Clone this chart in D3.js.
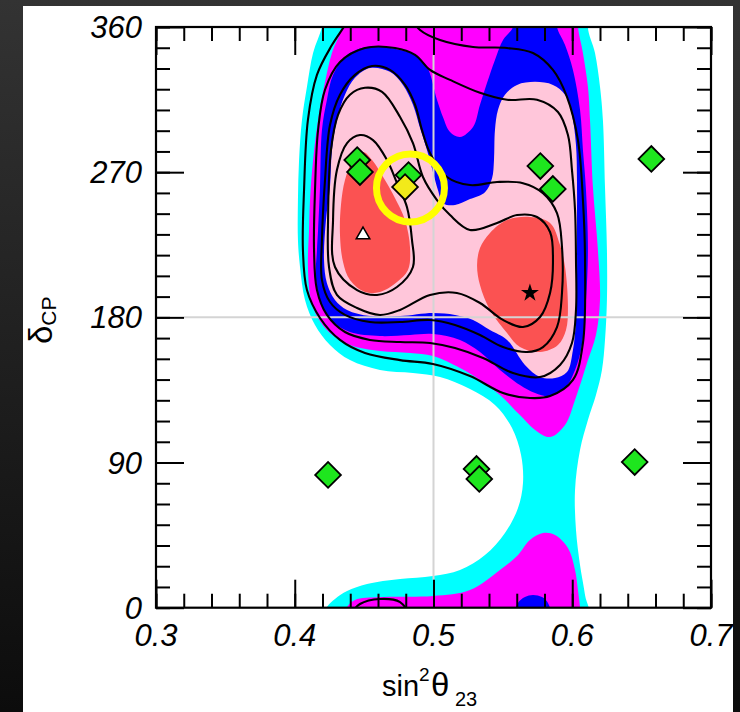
<!DOCTYPE html>
<html>
<head>
<meta charset="utf-8">
<script src="https://cdn.jsdelivr.net/npm/d3@7"></script>
<style>
  html, body { margin: 0; padding: 0; background: #1c1c1c; }
  svg { display: block; }
</style>
</head>
<body>
<svg id="chart" width="740" height="712"></svg>
<script>
// ---- axis ticks ----
const xMajorTicks = [0.3, 0.4, 0.5, 0.6, 0.7];
const yMajorTicks = [0, 90, 180, 270, 360];
const xTickLabels = ["0.3", "0.4", "0.5", "0.6", "0.7"];
const yTickLabels = ["0", "90", "180", "270", "360"];

// ---- allowed regions in (sin^2 theta23, deltaCP) ----
const cyanRegion = [
  [0.4211, 370.5], [0.6142, 370.5], [0.6113, 360.0], [0.6164, 343.9], [0.6200, 322.9],
  [0.6221, 302.4], [0.6236, 260.8], [0.6250, 221.7], [0.6250, 190.8], [0.6236, 166.0],
  [0.6214, 147.4], [0.6171, 131.9], [0.6113, 116.4], [0.6056, 97.8], [0.6020, 73.0],
  [0.6027, 48.2], [0.6056, 26.5], [0.6092, 7.9], [0.6113, -7.6], [0.4196, -7.6],
  [0.4232, 0.4], [0.4290, 5.4], [0.4377, 10.3], [0.4521, 14.7], [0.4759, 17.8],
  [0.4996, 19.7], [0.5191, 23.4], [0.5371, 32.6], [0.5515, 46.3], [0.5609, 61.8],
  [0.5645, 77.3], [0.5631, 94.7], [0.5566, 111.4], [0.5443, 125.7], [0.5263, 135.6],
  [0.5047, 143.0], [0.4852, 145.5], [0.4614, 147.4], [0.4398, 153.5], [0.4254, 162.9],
  [0.4146, 175.3], [0.4074, 190.8], [0.4038, 211.2], [0.4023, 227.9], [0.4023, 252.7],
  [0.4031, 277.5], [0.4052, 302.4], [0.4088, 322.9], [0.4132, 343.9], [0.4196, 360.0]
];
const magentaUpper = [
  [0.4341, 370.5], [0.6041, 370.5], [0.6041, 360.0], [0.6077, 343.9], [0.6113, 322.9],
  [0.6128, 302.4], [0.6149, 260.8], [0.6185, 221.7], [0.6200, 190.8], [0.6171, 169.1],
  [0.6113, 153.5], [0.6077, 143.6], [0.6020, 128.8], [0.5948, 113.3], [0.5840, 105.8],
  [0.5732, 110.2], [0.5623, 119.4], [0.5479, 131.9], [0.5335, 141.2], [0.5191, 148.6],
  [0.4996, 156.0], [0.4831, 157.9], [0.4614, 159.1], [0.4398, 162.9], [0.4254, 170.3],
  [0.4168, 179.6], [0.4117, 190.8], [0.4095, 211.2], [0.4103, 234.2], [0.4110, 252.7],
  [0.4132, 277.5], [0.4168, 302.4], [0.4211, 322.9], [0.4268, 343.9], [0.4341, 360.0]
];
const magentaLower = [
  [0.4362, -7.6], [0.4377, 0.4], [0.4434, 4.8], [0.4614, 6.6], [0.4996, 7.3],
  [0.5263, 11.0], [0.5479, 23.4], [0.5602, 32.0], [0.5695, 42.0], [0.5789, 46.3],
  [0.5876, 45.1], [0.5969, 37.0], [0.6020, 23.4], [0.6041, 11.0], [0.6056, 0.4],
  [0.6063, -7.6]
];
const blueUpper = [
  [0.5573, 370.5], [0.5890, 370.5], [0.5890, 360.0], [0.5948, 348.8], [0.6005, 333.4],
  [0.6056, 308.7], [0.6077, 283.7], [0.6099, 258.9], [0.6113, 221.7], [0.6099, 190.8],
  [0.6070, 162.9], [0.6020, 147.4], [0.5948, 136.2], [0.5840, 131.2], [0.5732, 133.1],
  [0.5623, 138.1], [0.5479, 147.4], [0.5335, 158.5], [0.5191, 166.0], [0.4996, 169.7],
  [0.4831, 169.1], [0.4614, 168.4], [0.4398, 170.9], [0.4276, 177.1], [0.4196, 187.7],
  [0.4153, 203.1], [0.4160, 221.7], [0.4168, 234.2], [0.4182, 260.8], [0.4196, 296.1],
  [0.4232, 314.9], [0.4276, 330.3], [0.4377, 342.7], [0.4564, 348.2], [0.4759, 345.7],
  [0.4867, 342.7], [0.4953, 335.3], [0.5025, 314.9], [0.5068, 304.2], [0.5119, 294.9],
  [0.5191, 291.8], [0.5285, 298.0], [0.5335, 311.8], [0.5386, 325.4], [0.5443, 339.6],
  [0.5501, 351.9], [0.5573, 360.0]
];
const blueLower = [
  [0.5587, -7.6], [0.5609, 2.9], [0.5659, 6.6], [0.5717, 7.9], [0.5782, 6.6],
  [0.5825, 2.9], [0.5847, -7.6]
];
const pinkRegion = [
  [0.4542, 334.6], [0.4686, 332.2], [0.4780, 324.1], [0.4852, 311.8], [0.4903, 297.4],
  [0.4953, 283.7], [0.4996, 270.1], [0.5032, 258.9], [0.5068, 250.8], [0.5155, 249.6],
  [0.5263, 253.3], [0.5371, 257.6], [0.5422, 266.3], [0.5436, 277.5], [0.5443, 296.1],
  [0.5465, 308.7], [0.5515, 318.0], [0.5602, 324.1], [0.5732, 326.0], [0.5861, 324.1],
  [0.5948, 318.0], [0.5998, 305.5], [0.6027, 286.8], [0.6034, 265.1], [0.6034, 234.2],
  [0.6034, 203.1], [0.6027, 178.4], [0.6005, 159.8], [0.5962, 146.1], [0.5876, 142.4],
  [0.5768, 143.0], [0.5659, 150.5], [0.5530, 166.0], [0.5407, 172.2], [0.5285, 178.4],
  [0.5155, 181.5], [0.4996, 182.7], [0.4759, 180.8], [0.4542, 180.8], [0.4377, 184.6],
  [0.4290, 190.8], [0.4232, 201.2], [0.4211, 215.5], [0.4225, 240.3], [0.4254, 260.8],
  [0.4268, 283.7], [0.4304, 302.4], [0.4362, 318.0], [0.4434, 328.5]
];
const redLeft = [
  [0.4492, 282.5], [0.4557, 277.5], [0.4650, 265.1], [0.4723, 253.9], [0.4795, 240.3],
  [0.4831, 223.0], [0.4816, 209.3], [0.4737, 201.9], [0.4614, 195.7], [0.4506, 195.7],
  [0.4398, 203.1], [0.4348, 214.3], [0.4326, 231.1], [0.4333, 249.6], [0.4362, 265.1],
  [0.4413, 276.3]
];
const redRight = [
  [0.5407, 232.3], [0.5530, 240.3], [0.5695, 242.2], [0.5840, 238.5], [0.5912, 224.8],
  [0.5948, 211.2], [0.5969, 186.4], [0.5955, 172.2], [0.5897, 162.9], [0.5768, 158.5],
  [0.5623, 161.6], [0.5530, 170.3], [0.5407, 184.6], [0.5335, 200.0], [0.5314, 212.4],
  [0.5335, 223.0]
];

// ---- contour lines of the second analysis ----
const contour1 = [
  [0.4276, 240.3], [0.4304, 271.3], [0.4377, 288.0], [0.4470, 293.0], [0.4564, 289.9],
  [0.4665, 277.5], [0.4737, 263.2], [0.4809, 248.3], [0.4845, 227.9], [0.4852, 211.2],
  [0.4737, 198.8], [0.4593, 193.9], [0.4449, 196.9], [0.4290, 211.2]
];
const contour2 = [
  [0.4240, 240.3], [0.4261, 283.7], [0.4312, 305.5], [0.4398, 318.0], [0.4506, 322.3],
  [0.4629, 319.8], [0.4759, 304.2], [0.4852, 288.0], [0.4924, 267.0], [0.5025, 252.7],
  [0.5119, 243.4], [0.5263, 234.2], [0.5458, 238.5], [0.5602, 243.4], [0.5746, 242.2],
  [0.5840, 232.9], [0.5861, 215.5], [0.5840, 195.1], [0.5768, 180.2], [0.5645, 174.0],
  [0.5501, 178.4], [0.5335, 188.9], [0.5169, 195.1], [0.4975, 193.9], [0.4759, 184.6],
  [0.4614, 181.5], [0.4449, 185.8], [0.4304, 193.9], [0.4247, 211.2]
];
const contour3 = [
  [0.4975, 281.8], [0.5097, 267.0], [0.5263, 262.0], [0.5458, 263.9], [0.5645, 263.2],
  [0.5789, 257.0], [0.5890, 244.6], [0.5926, 223.6], [0.5926, 195.1], [0.5890, 174.0],
  [0.5789, 161.6], [0.5674, 158.5], [0.5501, 161.6], [0.5335, 169.1], [0.5155, 175.3],
  [0.4975, 178.4], [0.4759, 177.1], [0.4542, 177.1], [0.4362, 181.5], [0.4254, 189.5],
  [0.4196, 203.1], [0.4196, 227.9], [0.4218, 265.1], [0.4254, 299.2], [0.4326, 318.0],
  [0.4434, 330.3], [0.4557, 335.8], [0.4686, 333.4], [0.4795, 324.1], [0.4867, 311.8],
  [0.4917, 296.1]
];
const contour4 = [
  [0.4975, 333.4], [0.5119, 327.2], [0.5335, 319.2], [0.5530, 314.9], [0.5746, 314.9],
  [0.5897, 307.3], [0.5969, 293.0], [0.5998, 271.3], [0.6020, 246.6], [0.6027, 215.5],
  [0.6027, 184.6], [0.5998, 164.1], [0.5912, 150.5], [0.5768, 143.0], [0.5573, 145.5],
  [0.5357, 154.8], [0.5155, 161.0], [0.4975, 164.1], [0.4759, 164.7], [0.4542, 166.0],
  [0.4362, 170.9], [0.4232, 181.5], [0.4160, 197.0], [0.4139, 221.7], [0.4146, 258.9],
  [0.4168, 296.1], [0.4218, 321.1], [0.4326, 338.3], [0.4506, 347.0], [0.4723, 347.0],
  [0.4867, 342.7]
];
// the outermost line wraps through deltaCP = 0 / 360
const contour5Upper = [
  [0.4831, 367.3], [0.4903, 358.1], [0.5047, 351.9], [0.5285, 347.6], [0.5530, 347.0],
  [0.5717, 343.9], [0.5861, 333.4], [0.5962, 316.7], [0.6041, 289.9], [0.6077, 252.7],
  [0.6092, 215.5], [0.6077, 164.1], [0.6005, 141.2], [0.5840, 131.2], [0.5695, 130.0],
  [0.5501, 133.1], [0.5263, 143.6], [0.4996, 151.1], [0.4759, 153.5], [0.4506, 157.9],
  [0.4326, 166.0], [0.4182, 179.6], [0.4088, 196.9], [0.4059, 221.7], [0.4067, 258.9],
  [0.4095, 302.4], [0.4160, 330.3], [0.4268, 348.8], [0.4362, 361.2], [0.4398, 367.3]
];
const contour5Lower = [
  [0.4398, -4.6], [0.4470, 2.3], [0.4614, 5.4], [0.4759, 3.5], [0.4831, -4.6]
];

// ---- model points and best fits ----
const modelPoints = [
  [0.445, 277.5], [0.447, 270.1], [0.482, 268.2], [0.577, 273.8], [0.586, 259.6],
  [0.657, 278.2], [0.424, 82.3], [0.531, 86.0], [0.533, 79.8], [0.645, 90.3]
];
const highlightedPoint = [0.4795, 260.8];
const highlightRing = [0.4834, 260.2];
const bestFitA = [0.4492, 231.1];   // triangle
const bestFitB = [0.5695, 195.1];   // star

// ---- layout ----
const W = 740, H = 712;
const plot = { left: 156, right: 711, top: 27, bottom: 607.7 };
const x = d3.scaleLinear().domain([0.3, 0.7]).range([plot.left, plot.right]);
const y = d3.scaleLinear().domain([0, 360]).range([plot.bottom, plot.top]);

const svg = d3.select("#chart");
const defs = svg.append("defs");
const grad = defs.append("linearGradient").attr("id", "bg").attr("x1", 0).attr("y1", 0).attr("x2", 0).attr("y2", 1);
grad.append("stop").attr("offset", "0%").attr("stop-color", "#333333");
grad.append("stop").attr("offset", "100%").attr("stop-color", "#0c0c0c");
defs.append("clipPath").attr("id", "plotclip").append("rect")
  .attr("x", plot.left).attr("y", plot.top)
  .attr("width", plot.right - plot.left).attr("height", plot.bottom - plot.top);

svg.append("rect").attr("width", W).attr("height", H).attr("fill", "url(#bg)");
svg.append("rect").attr("x", 23).attr("y", 6).attr("width", 710).attr("height", 706).attr("fill", "#ffffff");

const areaPath = d3.line().x(d => x(d[0])).y(d => y(d[1])).curve(d3.curveCatmullRomClosed.alpha(0.5));
const openPath = d3.line().x(d => x(d[0])).y(d => y(d[1])).curve(d3.curveCatmullRom.alpha(0.5));

const g = svg.append("g").attr("clip-path", "url(#plotclip)");

const fills = [
  [cyanRegion, "#00ffff"],
  [magentaUpper, "#ff00ff"],
  [magentaLower, "#ff00ff"],
  [blueUpper, "#0000ff"],
  [blueLower, "#0000ff"],
  [pinkRegion, "#ffc6da"],
  [redLeft, "#fb5252"],
  [redRight, "#fb5252"]
];
g.selectAll("path.region").data(fills).join("path")
  .attr("class", "region")
  .attr("d", d => areaPath(d[0]))
  .attr("fill", d => d[1]);

// reference lines at maximal mixing and deltaCP = 180
g.append("line")
  .attr("x1", x(0.5)).attr("x2", x(0.5))
  .attr("y1", plot.top + 28).attr("y2", plot.bottom - 28)
  .attr("stroke", "#d4d4d4").attr("stroke-width", 2);
g.append("line")
  .attr("x1", plot.left + 28).attr("x2", plot.right - 28)
  .attr("y1", y(180)).attr("y2", y(180))
  .attr("stroke", "#d4d4d4").attr("stroke-width", 2);

const closedLines = [contour1, contour2, contour3, contour4];
g.selectAll("path.cl").data(closedLines).join("path")
  .attr("class", "cl")
  .attr("d", d => areaPath(d))
  .attr("fill", "none").attr("stroke", "#000").attr("stroke-width", 2.1);
g.selectAll("path.ol").data([contour5Upper, contour5Lower]).join("path")
  .attr("class", "ol")
  .attr("d", d => openPath(d))
  .attr("fill", "none").attr("stroke", "#000").attr("stroke-width", 2.1);

// ---- frame and ticks ----
const xMinor = d3.range(0.3, 0.7001, 0.02);
const yMinor = d3.range(0, 360.01, 90 / 7);

function tickAxis(axisFn, scale, values, size, transform) {
  const a = axisFn(scale).tickValues(values).tickSize(size).tickFormat("");
  const ga = svg.append("g").attr("transform", transform).call(a);
  ga.select(".domain").remove();
  ga.selectAll("line").attr("stroke", "#000").attr("stroke-width", 2);
}
tickAxis(d3.axisBottom, x, xMinor, -14, `translate(0,${plot.bottom})`);
tickAxis(d3.axisBottom, x, xMajorTicks, -28, `translate(0,${plot.bottom})`);
tickAxis(d3.axisTop, x, xMinor, -14, `translate(0,${plot.top})`);
tickAxis(d3.axisTop, x, xMajorTicks, -28, `translate(0,${plot.top})`);
tickAxis(d3.axisLeft, y, yMinor, -14, `translate(${plot.left},0)`);
tickAxis(d3.axisLeft, y, yMajorTicks, -28, `translate(${plot.left},0)`);
tickAxis(d3.axisRight, y, yMinor, -14, `translate(${plot.right},0)`);
tickAxis(d3.axisRight, y, yMajorTicks, -28, `translate(${plot.right},0)`);

svg.append("rect")
  .attr("x", plot.left).attr("y", plot.top)
  .attr("width", plot.right - plot.left).attr("height", plot.bottom - plot.top)
  .attr("fill", "none").attr("stroke", "#000").attr("stroke-width", 2.2);

// ---- markers ----
const diamondSym = d3.symbol(d3.symbolSquare, 330);
svg.selectAll("path.model").data(modelPoints).join("path")
  .attr("class", "model")
  .attr("d", diamondSym())
  .attr("transform", d => `translate(${x(d[0])},${y(d[1])}) rotate(45)`)
  .attr("fill", "#1ee61e").attr("stroke", "#000").attr("stroke-width", 1.8);
svg.append("path")
  .attr("d", diamondSym())
  .attr("transform", `translate(${x(highlightedPoint[0])},${y(highlightedPoint[1])}) rotate(45)`)
  .attr("fill", "#f2ea1a").attr("stroke", "#000").attr("stroke-width", 1.8);
svg.append("circle")
  .attr("cx", x(highlightRing[0])).attr("cy", y(highlightRing[1])).attr("r", 34)
  .attr("fill", "none").attr("stroke", "#ffff00").attr("stroke-width", 7);
svg.append("path")
  .attr("d", d3.symbol(d3.symbolTriangle, 80)())
  .attr("transform", `translate(${x(bestFitA[0])},${y(bestFitA[1])})`)
  .attr("fill", "#fff").attr("stroke", "#000").attr("stroke-width", 1.5);
svg.append("path")
  .attr("d", d3.symbol(d3.symbolStar, 100)())
  .attr("transform", `translate(${x(bestFitB[0])},${y(bestFitB[1])})`)
  .attr("fill", "#000");

// ---- labels ----
const font = "'Liberation Sans', Arial, Helvetica, sans-serif";
svg.selectAll("text.xl").data(xMajorTicks).join("text")
  .attr("class", "xl")
  .attr("x", d => x(d)).attr("y", 646)
  .attr("text-anchor", "middle")
  .attr("font-family", font).attr("font-style", "italic").attr("font-size", 31)
  .text((d, i) => xTickLabels[i]);
svg.selectAll("text.yl").data(yMajorTicks).join("text")
  .attr("class", "yl")
  .attr("x", 142).attr("y", d => y(d) + 11)
  .attr("text-anchor", "end")
  .attr("font-family", font).attr("font-style", "italic").attr("font-size", 31)
  .text((d, i) => yTickLabels[i]);

// x title: sin^2 theta_23
const xt = svg.append("g").attr("font-family", font).attr("fill", "#000");
xt.append("text").attr("x", 382).attr("y", 696).attr("font-size", 29).text("sin");
xt.append("text").attr("x", 419).attr("y", 681).attr("font-size", 19).text("2");
xt.append("text").attr("x", 431).attr("y", 696).attr("font-size", 33).text("θ");
xt.append("text").attr("x", 455).attr("y", 706).attr("font-size", 20).text("23");

// y title: delta_CP
const yt = svg.append("text")
  .attr("transform", "translate(52,344) rotate(-90)")
  .attr("font-family", font).attr("fill", "#000");
yt.append("tspan").attr("font-size", 33).text("δ");
yt.append("tspan").attr("font-size", 21).attr("dy", 4).text("CP");
</script>
</body>
</html>
